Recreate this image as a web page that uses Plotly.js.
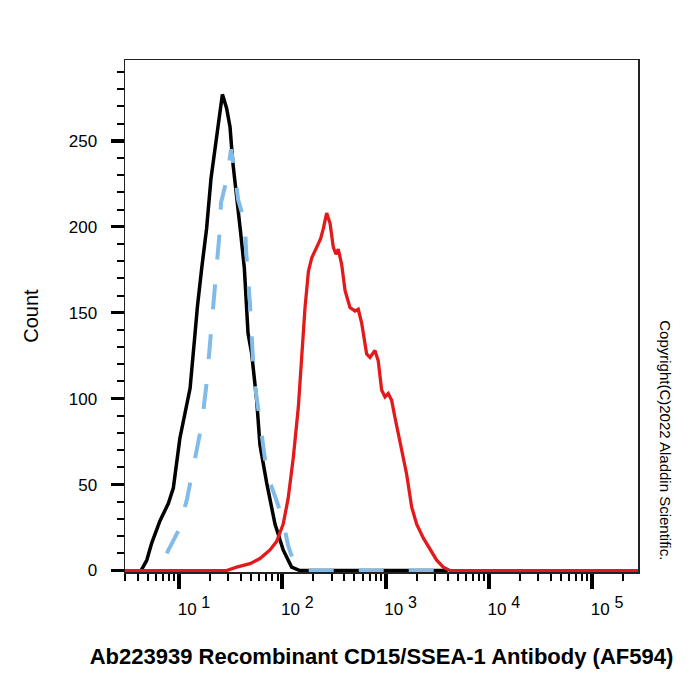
<!DOCTYPE html>
<html>
<head>
<meta charset="utf-8">
<script src="https://cdn.plot.ly/plotly-3.0.1.min.js"></script>
<style>
  html, body { margin: 0; padding: 0; background: #fff; }
  #chart { width: 700px; height: 700px; }
</style>
</head>
<body>
<div id="chart"></div>
<script>
// Flow cytometry histograms: fluorescence intensity (log) vs event count

// Isotype control (black, solid)
const isotypeX = [4.29, 4.87, 5.44, 6.55, 7.88, 8.81, 10.2, 12.8, 14.3, 15.1, 16.6, 18.5, 20.4, 22.3, 24.9,
                  26.3, 28.9, 31.2, 33.1, 36.2, 39.6, 42.9, 44.5, 46.6, 50.6, 56.5, 60.8, 70.6, 85.0, 102,
                  123, 148, 4000];
const isotypeY = [0, 6, 16, 29, 39, 48, 77, 106, 138, 154, 176, 199, 228, 246, 267,
                  277, 269, 258, 238, 219, 196, 176, 155, 138, 126, 99, 73, 51, 27, 12,
                  2, 0, 0];

// Unstained cells (light blue, dashed)
const unstainedX = [7.6, 9.84, 11.9, 14.3, 16.6, 18.5, 20.4, 22.3, 23.3, 24.9, 25.5, 29.1, 31.9, 34.8, 37.3,
                    43.5, 44.5, 46.6, 48.7, 49.8, 52.0, 53.2, 58.2, 62.2, 66.5, 71.1, 88.9, 101.6, 113.5, 126.9,
                    148, 4000];
const unstainedY = [10, 23, 41, 64, 85, 109, 138, 167, 184, 199, 214, 228, 245, 231, 216,
                    202, 187, 173, 155, 144, 128, 112, 95, 81, 68, 56, 40, 29, 15, 6,
                    0, 0];

// CD15/SSEA-1 stained cells (red, solid)
const stainedX = [3, 28.9, 36.2, 48.7, 60.8, 76.0, 88.3, 102, 114, 128, 143, 154, 166, 179, 193,
                  215, 235, 250, 269, 290, 312, 331, 348, 376, 405, 452, 506, 544, 587, 656,
                  706, 789, 849, 916, 986, 1062, 1145, 1233, 1378, 1600, 1789, 2000, 2317, 2692, 3124,
                  3620, 4198, 280000];
const stainedY = [0, 0, 2, 4, 7, 12, 17, 27, 42, 66, 95, 124, 153, 174, 182,
                  188, 193, 199, 208, 202, 188, 184, 187, 178, 163, 153, 151, 152, 144, 126,
                  124, 128, 122, 105, 101, 103, 99, 89, 74, 56, 37, 27, 19, 12, 6,
                  2, 0, 0];

// Axis ticks
const xMajorVals = [10, 100, 1000, 10000, 100000];
const xMajorExp = ['1', '2', '3', '4', '5'];
const xMidVals = [5, 50, 500, 5000, 50000];
const yMajorVals = [0, 50, 100, 150, 200, 250];
const yMajorText = ['0', '50', '100', '150', '200', '250'];

// power-of-ten labels with a near full-size exponent
const xMajorText = xMajorExp.map(function (e) {
  return '10 <sup><span style="font-size:16px">' + e + '</span></sup>';
});

// minor x ticks: 2..9 within every decade shown
const xMinorVals = [];
[1, 10, 100, 1000, 10000, 100000].forEach(function (d) {
  for (let k = 2; k <= 9; k++) {
    const v = k * d;
    if (v >= 3 && v <= 278000) xMinorVals.push(v);
  }
});
const yMinorVals = [];
for (let v = 10; v <= 290; v += 10) yMinorVals.push(v);

const FONT = 'Liberation Sans, Arial, Helvetica, sans-serif';
const xRange = [Math.log10(3), 5.444];

const traces = [
  {
    x: isotypeX, y: isotypeY, type: 'scatter', mode: 'lines',
    line: { color: '#000000', width: 3.5 }, hoverinfo: 'skip', showlegend: false
  },
  {
    x: unstainedX, y: unstainedY, type: 'scatter', mode: 'lines',
    line: { color: '#82bbe8', width: 4, dash: '25px,25px' }, hoverinfo: 'skip', showlegend: false
  },
  {
    x: stainedX, y: stainedY, type: 'scatter', mode: 'lines',
    line: { color: '#e31a1c', width: 3.3 }, hoverinfo: 'skip', showlegend: false
  }
];

const layout = {
  width: 700,
  height: 700,
  margin: { l: 125, r: 62, t: 60, b: 128 },
  paper_bgcolor: '#ffffff',
  plot_bgcolor: '#ffffff',
  font: { family: FONT, color: '#000000', size: 17 },
  showlegend: false,
  xaxis: {
    type: 'log',
    range: xRange,
    showgrid: false,
    zeroline: false,
    showline: true,
    mirror: true,
    linecolor: '#222222',
    linewidth: 1.5,
    ticks: 'outside',
    ticklen: 15,
    tickwidth: 4,
    tickcolor: '#000000',
    tickmode: 'array',
    tickvals: xMajorVals,
    ticktext: xMajorText,
    ticklabelshift: 15,
    ticklabelstandoff: 6,
    tickfont: { family: FONT, size: 17, color: '#000000' },
    minor: {
      tickmode: 'array',
      tickvals: xMinorVals,
      ticks: 'outside',
      ticklen: 7,
      tickwidth: 2,
      tickcolor: '#000000',
      showgrid: false
    },
    title: {
      text: '<b>Ab223939 Recombinant CD15/SSEA-1 Antibody (AF594)</b>',
      font: { family: FONT, size: 22, color: '#000000' },
      standoff: 30
    }
  },
  xaxis2: {
    type: 'log',
    range: xRange,
    overlaying: 'x',
    anchor: 'y',
    side: 'bottom',
    showgrid: false,
    zeroline: false,
    showline: false,
    ticks: 'outside',
    ticklen: 11,
    tickwidth: 3,
    tickcolor: '#000000',
    tickmode: 'array',
    tickvals: xMidVals,
    showticklabels: false
  },
  yaxis: {
    range: [-0.85, 297],
    showgrid: false,
    zeroline: false,
    showline: true,
    mirror: true,
    linecolor: '#222222',
    linewidth: 1.5,
    ticks: 'outside',
    ticklen: 13,
    tickwidth: 3.5,
    tickcolor: '#000000',
    tickmode: 'array',
    tickvals: yMajorVals,
    ticktext: yMajorText,
    ticklabelstandoff: 10,
    tickfont: { family: FONT, size: 17, color: '#000000' },
    minor: {
      tickmode: 'array',
      tickvals: yMinorVals,
      ticks: 'outside',
      ticklen: 7,
      tickwidth: 2,
      tickcolor: '#000000',
      showgrid: false
    },
    title: {
      text: 'Count',
      font: { family: FONT, size: 20, color: '#000000' },
      standoff: 24
    }
  },
  annotations: [
    {
      text: 'Copyright(C)2022 Aladdin Scientific.',
      xref: 'paper', yref: 'paper',
      x: 1.052, y: 0.258,
      xanchor: 'center', yanchor: 'middle',
      textangle: 90,
      showarrow: false,
      font: { family: FONT, size: 15, color: '#000000' }
    }
  ]
};

Plotly.newPlot('chart', traces, layout, { staticPlot: true, displayModeBar: false });
</script>
</body>
</html>
